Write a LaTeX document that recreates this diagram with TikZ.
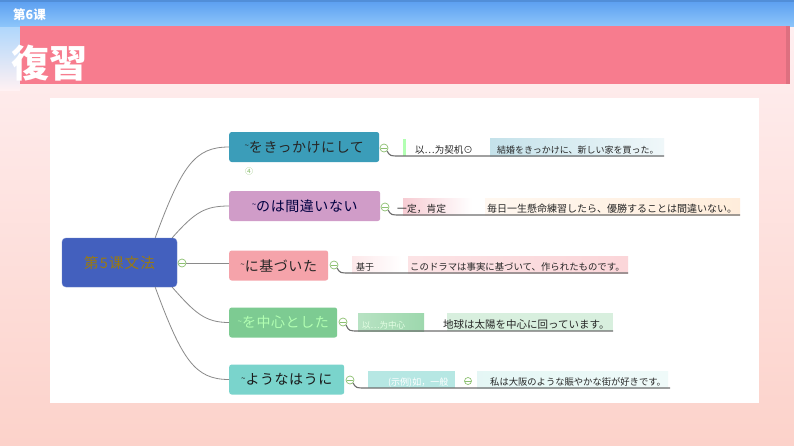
\documentclass[tikz,border=0pt]{standalone}
\usepackage{fontspec}
\setmainfont{Noto Sans CJK JP}
\usetikzlibrary{calc}
\definecolor{bgtop}{HTML}{FFF1F3}
\definecolor{bgbot}{HTML}{FCD2CA}
\definecolor{bluetop}{HTML}{5A9EF0}
\definecolor{bluebot}{HTML}{8CC5FA}
\definecolor{banner}{HTML}{F77C8E}
\definecolor{cblue}{HTML}{4360BE}
\definecolor{cgold}{HTML}{9A7A10}
\definecolor{b1col}{HTML}{3B9DB9}
\definecolor{b2col}{HTML}{D09CC8}
\definecolor{b3col}{HTML}{F5A3AA}
\definecolor{b4col}{HTML}{7DCB92}
\definecolor{b5col}{HTML}{7AD4CC}
\definecolor{collg}{HTML}{8CC070}
\definecolor{linkgray}{HTML}{8A8A8A}
\definecolor{ulgray}{HTML}{6E6E6E}
\newcommand{\tld}{\raisebox{0.25em}{\fontsize{8}{8}\selectfont\char`\~}}
\tikzset{
  branch/.style={rounded corners=2.5pt, minimum height=30pt, inner sep=0pt, anchor=west,
    font=\fontsize{14}{16}\selectfont\addfontfeature{LetterSpace=4}},
  coll/.style={circle, draw=collg, fill=white, line width=0.7pt, minimum size=8pt, inner sep=0pt,
    path picture={\draw[collg,line width=0.7pt]
      ([xshift=-2.6pt]path picture bounding box.center) -- ([xshift=2.6pt]path picture bounding box.center);}},
  link/.style={draw=linkgray, line width=0.8pt},
  uline/.style={draw=ulgray, line width=1.1pt},
  ex/.style={inner sep=0pt, anchor=base west, text=black!85},
}
\begin{document}
\begin{tikzpicture}[x=1pt,y=-1pt]
\useasboundingbox (0,0) rectangle (794,445);
% background
\shade[top color=bgtop, bottom color=bgbot] (0,0) rectangle (794,445);
\shade[top color=bluebot!70, bottom color=bgtop] (0,26) rectangle (20,90);
\shade[top color=bluetop, bottom color=bluebot] (0,0) rectangle (794,26);
\fill[bluetop!90!black] (0,0) rectangle (794,2);
\fill[banner] (20,26) rectangle (786,84);
\fill[banner!90!black] (786,26) rectangle (790,84);
\node[anchor=base west, inner sep=0pt, text=white, font=\fontsize{12.5}{13}\selectfont\bfseries] (t6) at (13,19.5) {第6课};
\node[anchor=base west, inner sep=0pt, text=white, font=\fontsize{38}{40}\selectfont\bfseries] (fx) at (11,77) {復習};
% white panel
\fill[white] (50,98) rectangle (759,403);

% central node
\node[rounded corners=4pt, fill=cblue, draw=cblue!80!white, minimum width=115pt, minimum height=49pt,
  text=cgold, font=\fontsize{14.5}{16}\selectfont\addfontfeature{LetterSpace=8}] (c) at (119.5,262.5) {第5课文法};
\node[coll] (cc) at (182,263) {};

% branches
\node[branch, fill=b1col, minimum width=150pt, text=black!85] (b1) at (229,147) {\tld をきっかけにして};
\node[branch, fill=b2col, minimum width=151pt, text=blue!25!black] (b2) at (229,206) {\tld のは間違いない};
\node[branch, fill=b3col, minimum width=99pt, text=black!85] (b3) at (229,265.5) {\tld に基づいた};
\node[branch, fill=b4col, minimum width=108pt, text=green!30!white] (b4) at (229,322.5) {\tld を中心とした};
\node[branch, fill=b5col, minimum width=115pt, text=black!90] (b5) at (229,379.5) {\tld ようなはうに};
\node[inner sep=0pt, text=collg, font=\fontsize{8}{9}\selectfont] (n4) at (249,171) {④};

% links from centre
\draw[link] ([xshift=-22pt]c.north east) .. controls (182,165) and (195,147) .. (b1.west);
\draw[link] ([xshift=-5pt]c.north east) .. controls (195,212) and (205,206) .. (b2.west);
\draw[link] (cc) -- (b3.west |- cc);
\draw[link] ([xshift=-5pt]c.south east) .. controls (195,313) and (205,322.5) .. (b4.west);
\draw[link] ([xshift=-22pt]c.south east) .. controls (182,360) and (195,379.5) .. (b5.west);

% collapse icons
\node[coll] (k1) at (384,148) {};
\node[coll] (k2) at (385,207) {};
\node[coll] (k3) at (334,265) {};
\node[coll] (k4) at (343,322) {};
\node[coll] (k5) at (350,380) {};

% leaf highlight backgrounds
\fill[green!30!white] (403,139) rectangle (406,156);
\shade[left color=b1col!30!white, right color=b1col!8!white] (490,138) rectangle (664,156);
\shade[left color=b2col!15!b3col!55!white, right color=white] (403,198) rectangle (472,215);
\shade[left color=orange!6!white, right color=orange!14!white] (485,198) rectangle (740,215);
\shade[left color=b3col!25!white, right color=white] (352,256) rectangle (402,273);
\shade[left color=b3col!30!white, right color=b3col!45!white] (408,256) rectangle (628,273);
\shade[left color=b4col!55!white, right color=b4col!75!white] (358,313) rectangle (424,331);
\fill[b4col!30!white] (447,313) rectangle (613,331);
\fill[b5col!55!white] (368,371) rectangle (455,388);
\shade[left color=b5col!20!white, right color=b5col!12!white] (477,371) rectangle (668,388);

% underline end points
\coordinate (u1) at (664,156);
\coordinate (u2) at (740,215);
\coordinate (u3) at (628,273);
\coordinate (u4) at (613,331);
\coordinate (u5) at (670,388);
\draw[uline] (k1.south east) .. controls (390,156) .. (400,156) -- (u1);
\draw[uline] (k2.south east) .. controls (391,215) .. (401,215) -- (u2);
\draw[uline] (k3.south east) .. controls (340,273) .. (350,273) -- (u3);
\draw[uline] (k4.south east) .. controls (349,331) .. (359,331) -- (u4);
\draw[uline] (k5.south east) .. controls (356,388) .. (366,388) -- (u5);
\node[coll, minimum size=7pt] (k6) at (468,381) {};

% leaf texts
\node[ex, font=\fontsize{9.5}{11}\selectfont] (l1) at (415,153) {以…为契机⊙};
\node[ex, font=\fontsize{9}{11}\selectfont] (e1) at (497,153) {結婚をきっかけに、新しい家を買った。};
\node[ex, font=\fontsize{9.8}{11}\selectfont] (l2) at (397,212) {一定，肯定};
\node[ex, font=\fontsize{10}{11}\selectfont] (e2) at (487,212) {毎日一生懸命練習したら、優勝することは間違いない。};
\node[ex, font=\fontsize{9}{11}\selectfont] (l3) at (356,270) {基于};
\node[ex, font=\fontsize{9.4}{11}\selectfont] (e3) at (410,270) {このドラマは事実に基づいて、作られたものです。};
\node[ex, font=\fontsize{8.5}{10}\selectfont, text=green!10!white] (l4) at (362,328) {以…为中心};
\node[ex, font=\fontsize{10.5}{12}\selectfont] (e4) at (443,328) {地球は太陽を中心に回っています。};
\node[ex, font=\fontsize{9}{11}\selectfont, text=white] (l5) at (388,385) {(示例)如，一般};
\node[ex, font=\fontsize{9.3}{11}\selectfont] (e5) at (490,385) {私は大阪のような賑やかな街が好きです。};
\end{tikzpicture}
\end{document}
